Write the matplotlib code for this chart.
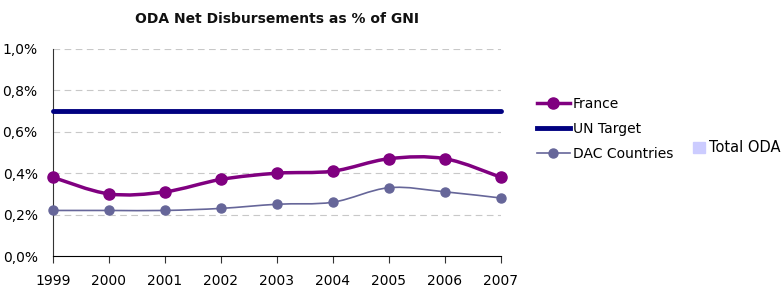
import matplotlib
matplotlib.use("Agg")
import matplotlib.pyplot as plt
from matplotlib.path import Path
from matplotlib.patches import PathPatch, Patch
from matplotlib.lines import Line2D
import numpy as np

# Data
years = [1999, 2000, 2001, 2002, 2003, 2004, 2005, 2006, 2007]
france = [0.38, 0.30, 0.31, 0.37, 0.40, 0.41, 0.47, 0.47, 0.38]
dac = [0.22, 0.22, 0.22, 0.23, 0.25, 0.26, 0.33, 0.31, 0.28]
un_target = [0.70] * len(years)
y_ticks = [0.0, 0.2, 0.4, 0.6, 0.8, 1.0]
y_labels = ["0,0%", "0,2%", "0,4%", "0,6%", "0,8%", "1,0%"]

c_france = "#800080"
c_un = "#000080"
c_dac = "#666699"
c_total = "#CCCCFF"


def smooth_path(x, y):
    # Bezier curve through the points (Excel-like smoothed line)
    x = np.asarray(x, float)
    y = np.asarray(y, float)
    verts = [(x[0], y[0])]
    codes = [Path.MOVETO]
    n = len(x)
    for i in range(n - 1):
        p0 = (x[max(i - 1, 0)], y[max(i - 1, 0)])
        p1 = (x[i], y[i])
        p2 = (x[i + 1], y[i + 1])
        p3 = (x[min(i + 2, n - 1)], y[min(i + 2, n - 1)])
        t = 1 / 6
        c1 = (p1[0] + (p2[0] - p0[0]) * t, p1[1] + (p2[1] - p0[1]) * t)
        c2 = (p2[0] - (p3[0] - p1[0]) * t, p2[1] - (p3[1] - p1[1]) * t)
        verts += [c1, c2, p2]
        codes += [Path.CURVE4] * 3
    return Path(verts, codes)


fig = plt.figure(figsize=(7.84, 2.89), dpi=100)
ax = fig.add_axes([53 / 784, 1 - 256 / 289, 448 / 784, 207 / 289])

for yt in y_ticks[1:]:
    ax.axhline(yt, color="#c8c8c8", lw=0.8, ls=(0, (6, 4)), zorder=0)

ax.plot(years, un_target, color=c_un, lw=3.5, solid_capstyle="round", zorder=3, clip_on=False)

ax.add_patch(PathPatch(smooth_path(years, dac), fill=False, edgecolor=c_dac, lw=1.2, zorder=4))
ax.plot(years, dac, ls="none", marker="o", ms=6.5, color=c_dac, zorder=5, clip_on=False)

ax.add_patch(PathPatch(smooth_path(years, france), fill=False, edgecolor=c_france, lw=2.5, zorder=6))
ax.plot(years, france, ls="none", marker="o", ms=8, color=c_france, zorder=7, clip_on=False)

ax.set_xlim(1999, 2007)
ax.set_ylim(0, 1.0)
ax.set_xticks(years)
ax.set_xticklabels([str(y) for y in years], fontsize=10)
ax.set_yticks(y_ticks)
ax.set_yticklabels(y_labels, fontsize=10)
ax.tick_params(axis="y", length=0, pad=11)
ax.tick_params(axis="x", length=5, pad=8, color="#333333")
for s in ["top", "right"]:
    ax.spines[s].set_visible(False)
ax.spines["left"].set_color("#333333")
ax.spines["bottom"].set_color("#000000")

ax.set_title("ODA Net Disbursements as % of GNI", fontsize=10, fontweight="bold", pad=19, color="#111111")

handles = [
    Line2D([], [], color=c_france, lw=2.5, marker="o", ms=8),
    Line2D([], [], color=c_un, lw=3.5),
    Line2D([], [], color=c_dac, lw=1.2, marker="o", ms=6.5),
]
fig.legend(handles, ["France", "UN Target", "DAC Countries"], loc="center left",
           bbox_to_anchor=(524 / 784, 1 - 129 / 289), frameon=False, fontsize=10,
           handlelength=2.4, handletextpad=0.2, labelspacing=0.8)
fig.legend([Patch(color=c_total)], ["Total ODA"], loc="center left",
           bbox_to_anchor=(680 / 784, 1 - 148 / 289), frameon=False, fontsize=10.5,
           handlelength=0.8, handleheight=0.8, handletextpad=0.3)

fig.savefig("out.png", dpi=100)
